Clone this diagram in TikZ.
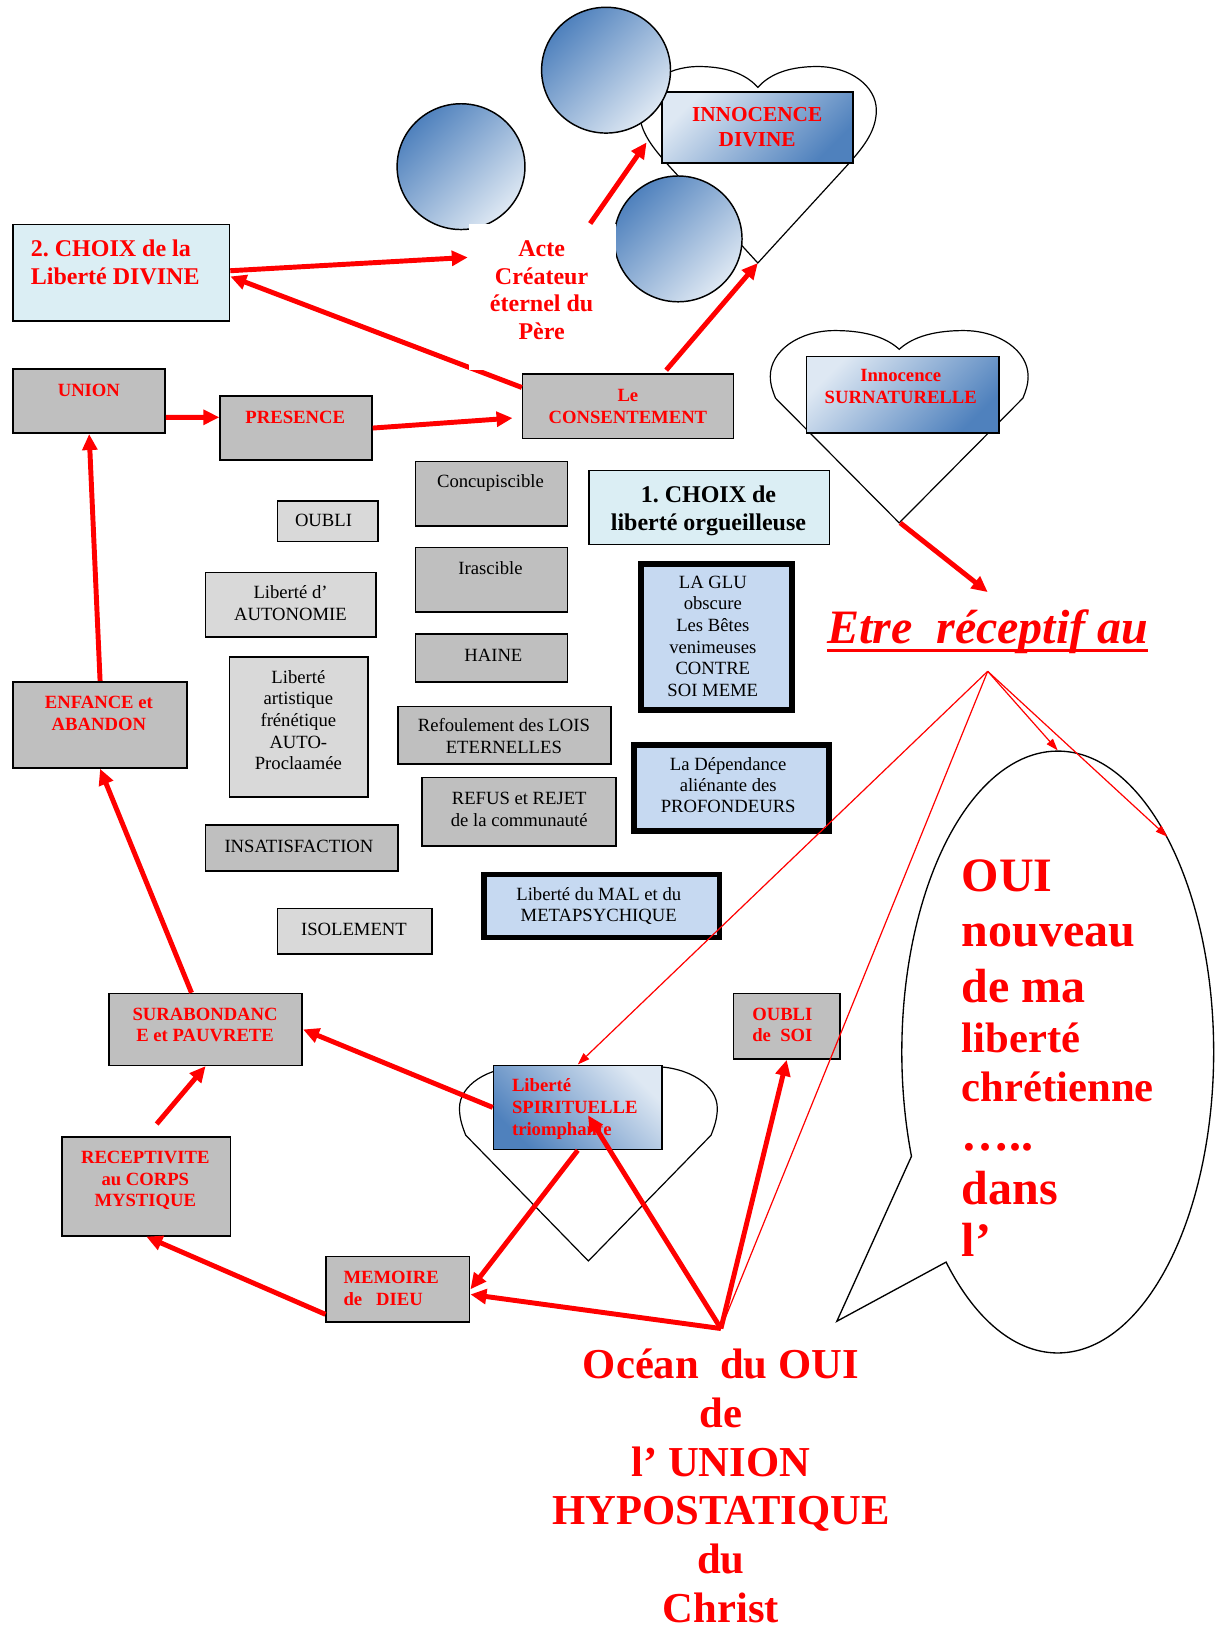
\documentclass[tikz,border=0pt]{standalone}
\usepackage{fontspec}
\setmainfont{Liberation Serif}
\usetikzlibrary{arrows.meta, shapes.geometric, shapes.callouts}
\definecolor{CardGray}{RGB}{191,191,191}
\definecolor{CardLight}{RGB}{217,217,217}
\definecolor{CardCyan}{RGB}{219,238,244}
\definecolor{CardBlue}{RGB}{198,217,241}
\definecolor{GradDark}{RGB}{79,129,189}
\definecolor{GradLight}{RGB}{222,232,243}
\newcommand{\px}{0.78pt}
% heart outline: centre x, half width, top, dip, widest y, side offset, side y, tip y
\newcommand{\heartpath}[8]{%
  \draw[heartline] (#1,#8) -- ({#1-#6},#7)
    .. controls ({#1-#6-0.5*(#2-#6)},{#7-0.3*(#7-#5)}) and ({#1-#2},{#5+0.4*(#7-#5)}) .. ({#1-#2},#5)
    .. controls ({#1-#2},{#5-0.55*(#5-#3)}) and ({#1-0.78*#2},#3) .. ({#1-0.5*#2},#3)
    .. controls ({#1-0.22*#2},#3) and ({#1-0.08*#2},{#3+0.5*(#4-#3)}) .. (#1,#4)
    .. controls ({#1+0.08*#2},{#3+0.5*(#4-#3)}) and ({#1+0.22*#2},#3) .. ({#1+0.5*#2},#3)
    .. controls ({#1+0.78*#2},#3) and ({#1+#2},{#5-0.55*(#5-#3)}) .. ({#1+#2},#5)
    .. controls ({#1+#2},{#5+0.4*(#7-#5)}) and ({#1+#6+0.5*(#2-#6)},{#7-0.3*(#7-#5)}) .. ({#1+#6},#7)
    -- cycle;}
\newcommand{\ulthick}[1]{\setbox0\hbox{#1}\rlap{\rule[-6.2pt]{\wd0}{2.4pt}}\box0}
\frenchspacing

\begin{document}
\begin{tikzpicture}[x=0.78pt, y=-0.78pt,
    sz/.style 2 args={minimum width=#1*\px, minimum height=#2*\px},
    tw/.style={text width=#1*\px},
    card/.style={draw, line width=1.2pt, anchor=north west, inner sep=0},
    gbox/.style={card, fill=CardGray},
    lbox/.style={card, fill=CardLight},
    cbox/.style={card, fill=CardCyan},
    blbox/.style={card, fill=CardBlue, line width=4.2pt},
    shbox/.style={card, top color=GradLight, bottom color=GradDark, shading angle=45},
    orb/.style={ellipse, draw, line width=1.1pt, inner sep=0, top color=GradDark, bottom color=GradLight, shading angle=45},
    heartline/.style={draw, line width=0.9pt},
    txt/.style={anchor=base, align=flush center, inner sep=0, font=\fontsize{14}{16.2}\selectfont},
    redtxt/.style={txt, text=red, font=\fontsize{14}{16.2}\selectfont\bfseries},
    bigtxt/.style={txt, text=red, font=\fontsize{18}{20.6}\selectfont\bfseries},
    fat/.style={-{Triangle[length=12pt, width=11pt]}, line width=3.7pt, red},
    fine/.style={-{Triangle[length=9pt, width=6pt]}, line width=0.9pt, red}
  ]
  \useasboundingbox (0,0) rectangle (1171,1568);

  % hearts behind the cards
  \heartpath{729}{114}{64}{84}{106}{86}{159}{253}
  \heartpath{865}{124}{318}{336}{362}{119}{383}{503}
  \heartpath{566}{124}{1026}{1044}{1066}{118}{1092}{1213}
  \coordinate (tip1) at (729,253);
  \coordinate (side1) at (622,137);
  \coordinate (tip2) at (866,503);

  % top and left
  \node[cbox, sz={208}{93}] (choix2) at (12,215) {};
  \node[bigtxt, tw=190, anchor=base west, align=flush left] (choix2T) at (29.5,247) {2. CHOIX de la\\Liberté DIVINE};
  \node[gbox, sz={146}{62}] (union) at (12,354) {};
  \node[redtxt] (unionT) at (85.5,381.5) {UNION};
  \node[gbox, sz={146}{62}] (presence) at (211,380) {};
  \node[redtxt] (presenceT) at (284,407.3) {PRESENCE};
  \node[gbox, sz={203}{62}] (consent) at (502,359) {};
  \node[redtxt, tw=200] (consentT) at (604,386.5) {Le\\CONSENTEMENT};
  \node[shbox, sz={184}{68}] (innodiv) at (636,88) {};
  \node[redtxt, tw=180, font=\fontsize{16}{18.7}\selectfont\bfseries] (innodivT) at (728.4,117) {INNOCENCE\\DIVINE};
  \node[shbox, sz={185}{74}] (innosur) at (775,342) {};
  \node[redtxt, tw=180] (innosurT) at (866.5,367.3) {Innocence\\SURNATURELLE};

  % middle cards
  \node[gbox, sz={146}{62}] (concup) at (399,443) {};
  \node[txt] (concupT) at (471.8,469.4) {Concupiscible};
  \node[gbox, sz={146}{62}] (irasc) at (399,526) {};
  \node[txt] (irascT) at (471.8,552.8) {Irascible};
  \node[gbox, sz={146}{46}] (haine) at (399,609) {};
  \node[txt] (haineT) at (474.6,636.5) {HAINE};
  \node[lbox, sz={97}{39}] (oubli) at (266,481) {};
  \node[txt] (oubliT) at (311.2,506.6) {OUBLI};
  \node[lbox, sz={164}{62}] (autonom) at (197,550) {};
  \node[txt, tw=160] (autonomT) at (279.5,575.8) {Liberté d’\\AUTONOMIE};
  \node[lbox, sz={133}{135}] (artist) at (220,631) {};
  \node[txt, tw=130] (artistT) at (287,657.4) {Liberté\\artistique\\frénétique\\AUTO-\\Proclaamée};
  \node[gbox, sz={205}{55}] (refoul) at (382,679) {};
  \node[txt, tw=200] (refoulT) at (484.7,704) {Refoulement des LOIS\\ETERNELLES};
  \node[gbox, sz={187}{66}] (refus) at (405,747) {};
  \node[txt, tw=185] (refusT) at (499.5,774.2) {REFUS et REJET\\de la communauté};
  \node[gbox, sz={185}{44}] (insatis) at (197,793) {};
  \node[txt] (insatisT) at (287.6,819.8) {INSATISFACTION};
  \node[lbox, sz={149}{44}] (isol) at (266,873) {};
  \node[txt] (isolT) at (340.5,899.7) {ISOLEMENT};
  \node[blbox, sz={226.6}{60.6}] (mal) at (462.7,838.7) {};
  \node[txt, tw=225] (malT) at (576,866) {Liberté du MAL et du\\METAPSYCHIQUE};
  \node[cbox, sz={231}{71}] (choix1) at (566,452) {};
  \node[txt, tw=228, font=\fontsize{18}{21.1}\selectfont\bfseries] (choix1T) at (681.5,482.9) {1. CHOIX de\\liberté orgueilleuse};
  \node[blbox, sz={145.6}{140.6}] (glu) at (613.7,539.7) {};
  \node[txt, tw=140] (gluT) at (685.7,566) {LA GLU\\obscure\\Les Bêtes\\venimeuses\\CONTRE\\SOI MEME};
  \node[blbox, sz={187.6}{83.2}] (depend) at (607.3,713.7) {};
  \node[txt, tw=185, font=\fontsize{14}{15.8}\selectfont] (dependT) at (700.5,740.9) {La Dépendance\\aliénante des\\PROFONDEURS};

  % lower cycle
  \node[gbox, sz={167}{83}] (enfance) at (12,655) {};
  \node[redtxt, tw=160] (enfanceT) at (95.1,682) {ENFANCE et\\ABANDON};
  \node[gbox, sz={186}{69}] (surab) at (104,955) {};
  \node[redtxt, tw=180] (surabT) at (197.3,981.4) {SURABONDANC\\E et PAUVRETE};
  \node[gbox, sz={162}{95}] (recept) at (59,1093) {};
  \node[redtxt, tw=155] (receptT) at (139.8,1119.3) {RECEPTIVITE\\au CORPS\\MYSTIQUE};
  \node[gbox, sz={138}{63}] (memoire) at (313,1208) {};
  \node[redtxt, tw=120, anchor=base west, align=flush left] (memoireT) at (330.2,1234.8) {MEMOIRE\\de\ \ \ DIEU};
  \node[gbox, sz={102}{63}] (oublisoi) at (705,955) {};
  \node[redtxt, tw=90, anchor=base west, align=flush left] (oublisoiT) at (723.4,981.2) {OUBLI\\de\ \ SOI};
  \node[card, top color=GradLight, bottom color=GradDark, shading angle=-45, sz={162}{81}] (libspi) at (474,1024) {};
  \node[redtxt, tw=140, anchor=base west, align=flush left] (libspiT) at (492.3,1050.4) {Liberté\\SPIRITUELLE\\triomphante};

  % spheres
  \node[orb, sz={124}{121}] (orb1) at (583,67.5) {};
  \node[orb, sz={123}{121}] (orb2) at (443.5,160.3) {};
  \node[orb, sz={123}{121}] (orb3) at (652.3,229.8) {};

  \draw[fat] (consent.170) -- (choix2.-2);

  \node[card, draw=none, fill=white, sz={142}{140}] (acte) at (450,215) {};
  \node[bigtxt, tw=140] (acteT) at (521,247) {Acte\\Créateur\\éternel du\\Père};

  % right side texts
  \node[text=red, font=\fontsize{36}{41}\selectfont\bfseries\itshape, anchor=base west, inner xsep=0, inner ysep=13pt] (etre) at (795.4,619) {\ulthick{Etre\ \ réceptif au}};
  \node[ellipse callout, draw, line width=1pt, fill=white, inner sep=0, sz={300}{579}, callout absolute pointer={(805,1271)}, callout pointer arc=24] (bubble) at (1017.5,1012) {};
  \node[text=red, font=\fontsize{36}{41.3}\selectfont\bfseries, tw=240, align=flush left, anchor=base west, inner sep=0] (oui) at (925,858)
    {OUI\\nouveau\\de ma\\[-3.7pt]{\fontsize{32}{37}\selectfont liberté}\\[-4.3pt]{\fontsize{32}{37}\selectfont chrétienne}\\[-4.6pt]…..\\[-0.8pt]dans\\[-1.9pt]l’};
  \node[text=red, font=\fontsize{32}{36.6}\selectfont\bfseries, tw=360, align=flush center, anchor=base, inner xsep=0, inner ysep=15pt] (ocean) at (693.5,1326)
    {Océan\ \ du OUI\\de\\l’ UNION\\HYPOSTATIQUE\\du\\Christ};

  % arrows
  \draw[fat] (choix2.1) -- (acte.152);
  \draw[fat] (acte.57) -- (side1);
  \draw[fat, shorten <=3pt] (consent.43) -- (tip1);
  \draw[fat] (union.-12) -- (presence.172);
  \draw[fat, shorten >=7pt] (presence.east) -- (consent.186);
  \draw[fat] (enfance.north) -- (union.south);
  \draw[fat] (surab.111) -- (enfance.south);
  \draw[fat, shorten <=12pt] (recept.north) -- (surab.south);
  \draw[fat] (memoire.199) -- (recept.south);
  \draw[fat] (libspi.west) -- (surab.east);
  \draw[fat] (libspi.south) -- (memoire.east);
  \draw[fat] (ocean.north) -- (memoire.-4);
  \draw[fat, shorten >=7pt] (ocean.north) -- ([xshift=4pt]libspi.center);
  \draw[fat] (ocean.north) -- (oublisoi.south);
  \draw[fat] (tip2) -- (etre.north);

  \draw[fine] (etre.south) -- (libspi.north);
  \draw[fine, -] (etre.south) -- (ocean.north);
  \draw[fine] (etre.south) -- (bubble.north);
  \draw[fine] (etre.south) -- (bubble.63);
\end{tikzpicture}
\end{document}
